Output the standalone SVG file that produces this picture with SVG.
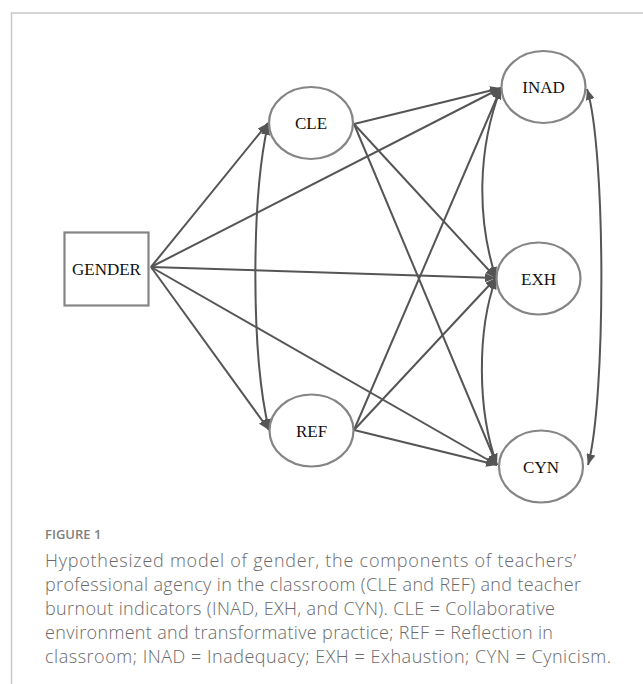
<svg xmlns="http://www.w3.org/2000/svg" width="643" height="684" viewBox="0 0 643 684">
<defs>
<marker id="ah" viewBox="0 0 11 9" refX="11" refY="4.5" markerWidth="11" markerHeight="9" markerUnits="userSpaceOnUse" orient="auto-start-reverse">
<path d="M0,0 L11,4.5 L0,9 z" fill="#555"/>
</marker>
<style>
.frame{fill:none;stroke:#c8c8c8;stroke-width:1.5}
.node{fill:#fff;stroke:#858585;stroke-width:2.2}
.lbl{font-family:"Liberation Serif","Times New Roman",serif;font-size:17px;fill:#111;text-anchor:middle}
.edge{fill:none;stroke:#555;stroke-width:2;marker-end:url(#ah)}
.cov{fill:none;stroke:#555;stroke-width:2;marker-end:url(#ah);marker-start:url(#ah)}
.fig{font-family:"Open Sans","Liberation Sans",sans-serif;font-size:13px;fill:#808080;font-weight:600}
.cap{font-family:"Open Sans","Liberation Sans",sans-serif;font-size:18px;fill:#6a6a6a;font-weight:300}
</style>
</defs>
<rect width="643" height="684" fill="#fff"/>
<path class="frame" d="M11.5,684 V13 H643"/>
<g id="connectors">
<line class="edge" x1="151" y1="267" x2="268" y2="123"/>
<line class="edge" x1="151" y1="267" x2="269" y2="430"/>
<line class="edge" x1="151" y1="267" x2="501" y2="88"/>
<line class="edge" x1="151" y1="267" x2="496" y2="278"/>
<line class="edge" x1="151" y1="267" x2="497" y2="465"/>
<line class="edge" x1="354" y1="124" x2="501" y2="88"/>
<line class="edge" x1="354" y1="124" x2="496" y2="278"/>
<line class="edge" x1="354" y1="124" x2="497" y2="465"/>
<line class="edge" x1="354" y1="430" x2="501" y2="88"/>
<line class="edge" x1="354" y1="430" x2="496" y2="278"/>
<line class="edge" x1="354" y1="430" x2="497" y2="465"/>
<path class="cov" d="M268,124 C251,200 251,355 269,430"/>
<path class="cov" d="M501,88 C477,150 477,220 496,278"/>
<path class="cov" d="M496,278 C477,330 477,410 497,465"/>
<path class="cov" d="M587,89 C606,150 606,400 588,465"/>
</g>
<g id="GENDER">
<rect class="node" x="64.5" y="232.5" width="84" height="73"/>
<text class="lbl" x="106.5" y="275">GENDER</text>
</g>
<g id="CLE">
<ellipse class="node" cx="311" cy="123" rx="42" ry="36"/>
<text class="lbl" x="311" y="129">CLE</text>
</g>
<g id="REF">
<ellipse class="node" cx="311.5" cy="430.5" rx="42" ry="36"/>
<text class="lbl" x="311.5" y="436.5">REF</text>
</g>
<g id="INAD">
<ellipse class="node" cx="543.5" cy="87" rx="42" ry="36"/>
<text class="lbl" x="543.5" y="93">INAD</text>
</g>
<g id="EXH">
<ellipse class="node" cx="538.5" cy="278.5" rx="42" ry="36"/>
<text class="lbl" x="538.5" y="284.5">EXH</text>
</g>
<g id="CYN">
<ellipse class="node" cx="541" cy="466.5" rx="42" ry="36"/>
<text class="lbl" x="541" y="472.5">CYN</text>
</g>
<text class="fig" x="45" y="539">FIGURE 1</text>
<text class="cap" x="45" y="566.5" textLength="531" lengthAdjust="spacing">Hypothesized model of gender, the components of teachers’</text>
<text class="cap" x="45" y="590.5" textLength="536" lengthAdjust="spacing">professional agency in the classroom (CLE and REF) and teacher</text>
<text class="cap" x="45" y="614.5" textLength="510" lengthAdjust="spacing">burnout indicators (INAD, EXH, and CYN). CLE = Collaborative</text>
<text class="cap" x="45" y="638.5" textLength="508" lengthAdjust="spacing">environment and transformative practice; REF = Reflection in</text>
<text class="cap" x="45" y="662.5" textLength="566" lengthAdjust="spacing">classroom; INAD = Inadequacy; EXH = Exhaustion; CYN = Cynicism.</text>
</svg>
